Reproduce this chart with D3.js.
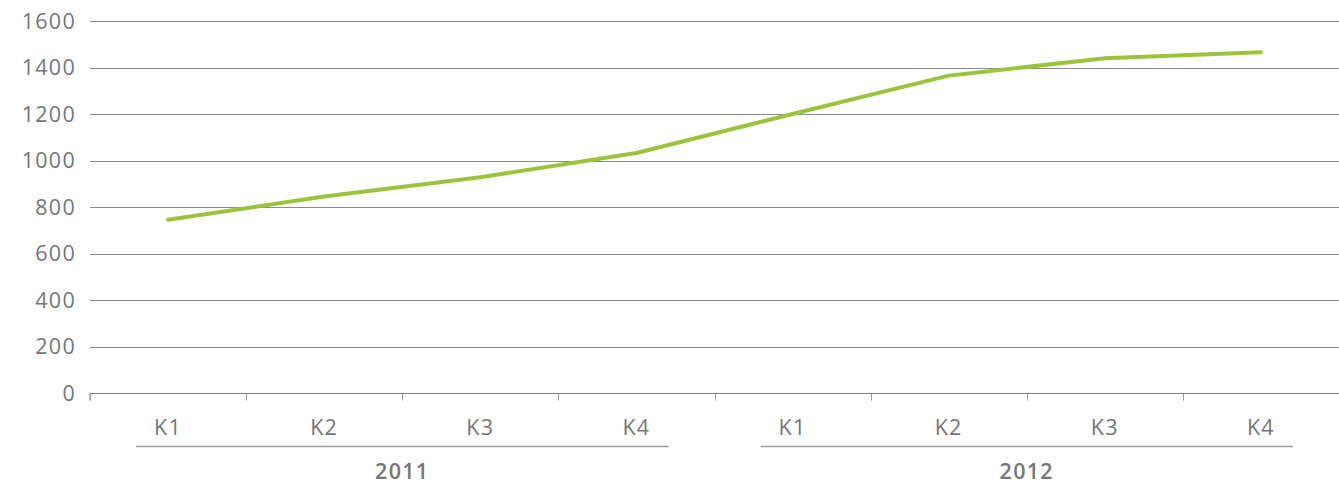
<!DOCTYPE html>
<html>
<head>
<meta charset="utf-8">
<script src="https://cdn.jsdelivr.net/npm/d3@7"></script>
<style>
  html, body { margin: 0; padding: 0; background: #fff; }
  svg { display: block; font-family: "Open Sans", sans-serif; }
</style>
</head>
<body>
<svg id="chart" width="1339" height="485"></svg>
<script>
const years = ["2011", "2012"];
const quarters = ["K1", "K2", "K3", "K4"];
const categories = ["2011-K1","2011-K2","2011-K3","2011-K4","2012-K1","2012-K2","2012-K3","2012-K4"];
const values = [745, 845, 928, 1032, 1200, 1365, 1440, 1466];
const yTicks = [0, 200, 400, 600, 800, 1000, 1200, 1400, 1600];

const svg = d3.select("#chart");
const margin = { left: 90, right: 0, top: 21, bottom: 92 };
const W = 1339, H = 485;
const FS = 21.5, LS = "1.3px";

const x = d3.scaleBand().domain(categories).range([margin.left, W - margin.right]).padding(0);
const y = d3.scaleLinear().domain([0, 1600]).range([H - margin.bottom, margin.top]);

// gridlines
svg.append("g").selectAll("line").data(yTicks.filter(d => d > 0)).join("line")
  .attr("x1", margin.left).attr("x2", W - margin.right)
  .attr("y1", d => Math.round(y(d)) + 0.5).attr("y2", d => Math.round(y(d)) + 0.5)
  .attr("stroke", "#8c8c8c").attr("stroke-width", 1);

// y labels
svg.append("g").selectAll("text").data(yTicks).join("text")
  .attr("x", 76).attr("y", d => y(d)).attr("dy", "0.36em")
  .attr("text-anchor", "end").attr("fill", "#767676").attr("font-size", FS)
  .attr("letter-spacing", LS)
  .text(d => d);

// x axis
const xAxis = d3.axisBottom(x).tickSize(7).tickFormat("");
const gx = svg.append("g").attr("transform", `translate(0,${Math.round(y(0)) + 0.5})`).call(xAxis);
gx.select(".domain").attr("stroke", "#7f7f7f").attr("d", `M${margin.left},7V0H${W - margin.right}V0`);
gx.selectAll(".tick").remove();
const bounds = categories.map(c => x(c)).concat([W - margin.right]);
gx.selectAll("line.b").data(bounds).join("line").attr("class", "b")
  .attr("x1", d => Math.round(d) + 0.5).attr("x2", d => Math.round(d) + 0.5)
  .attr("y1", 0).attr("y2", 7).attr("stroke", "#9a9a9a");

// quarter labels
svg.append("g").selectAll("text").data(categories).join("text")
  .attr("x", d => x(d) + x.bandwidth() / 2).attr("y", 427).attr("dy", "0.36em")
  .attr("text-anchor", "middle").attr("fill", "#767676").attr("font-size", FS)
  .attr("letter-spacing", LS)
  .text(d => d.split("-")[1]);

// year groups
years.forEach(yr => {
  const first = x(yr + "-" + quarters[0]);
  const last = x(yr + "-" + quarters[quarters.length - 1]) + x.bandwidth();
  svg.append("line").attr("x1", first + 46).attr("x2", last - 46)
    .attr("y1", 446.5).attr("y2", 446.5).attr("stroke", "#9a9a9a").attr("stroke-width", 1.5);
  svg.append("text").attr("x", (first + last) / 2).attr("y", 471).attr("dy", "0.36em")
    .attr("text-anchor", "middle").attr("fill", "#767676").attr("font-size", FS).attr("font-weight", 600)
    .attr("letter-spacing", LS)
    .text(yr);
});

// line
const line = d3.line().x((d, i) => x(categories[i]) + x.bandwidth() / 2).y(d => y(d));
svg.append("path").datum(values).attr("d", line)
  .attr("fill", "none").attr("stroke", "#9bc43c").attr("stroke-width", 4)
  .attr("stroke-linecap", "round").attr("stroke-linejoin", "round");
</script>
</body>
</html>
